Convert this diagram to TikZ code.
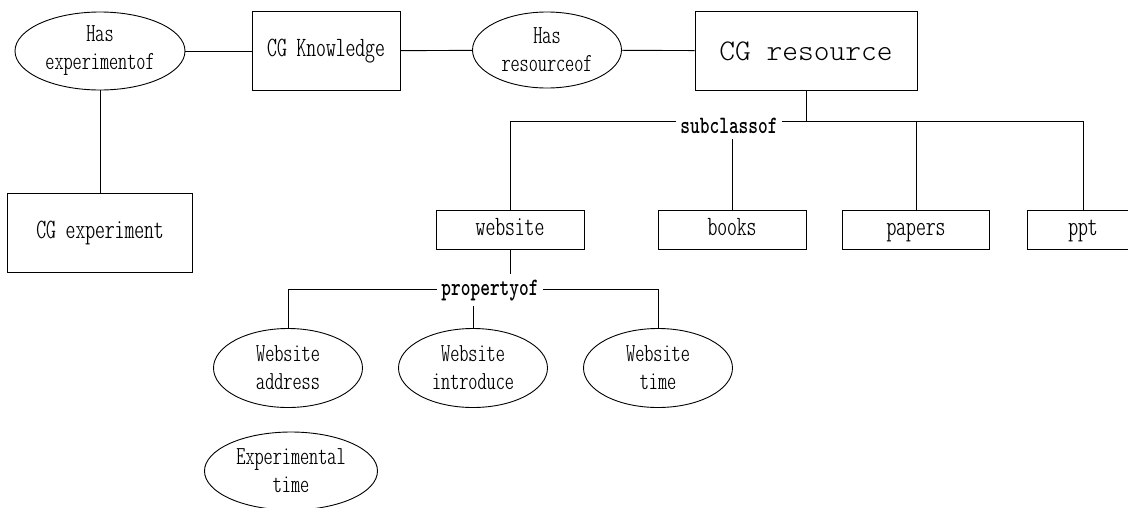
\documentclass[tikz,border=0pt]{standalone}
\usepackage{graphicx}
\usetikzlibrary{shapes.geometric}
\newcommand\txtfont{\fontfamily{lmtt}\fontseries{lc}\fontsize{28}{25}\selectfont}
\newcommand\ovalfont{\fontfamily{lmtt}\fontseries{lc}\fontsize{26}{28}\selectfont}
\newcommand\bigfont{\fontfamily{lmtt}\fontseries{l}\fontsize{30}{30}\selectfont}
\newcommand\lblfont{\fontfamily{lmtt}\fontseries{b}\fontsize{25}{26}\selectfont}
\newcommand\narrow[1]{\scalebox{0.74}[1]{#1}}
\begin{document}
\begin{tikzpicture}[x=1pt,y=-1pt,line width=0.9pt,
  box/.style={draw,rectangle,inner sep=0pt,font=\txtfont,align=center,minimum height=79pt},
  leaf/.style={box,minimum width=148pt,minimum height=39pt,text height=16pt,text depth=5pt},
  oval/.style={draw,ellipse,inner sep=0pt,minimum width=149pt,minimum height=78pt,font=\ovalfont,align=center},
  lbl/.style={inner xsep=4pt,inner ysep=5pt,font=\lblfont,anchor=base}]
\useasboundingbox (0,0) rectangle (1128,507);

% top row
\node[oval,minimum width=170pt] (hasexp) at (100,51) {Has\\experimentof};
\node[box,minimum width=148pt] (cgknow) at (326,51) {CG Knowledge};
\node[oval,minimum height=76pt] (hasres) at (547,50) {Has\\resourceof};
\node[box,minimum width=222pt,font=\bigfont] (cgres) at (806,51) {CG resource};
\node[box,minimum width=185pt] (cgexp) at (100,233) {CG experiment};

\draw (hasexp) -- (cgknow);
\draw (cgknow) -- (hasres);
\draw (hasres) -- (cgres);
\draw (hasexp) -- (cgexp);

% subclasses
\node[leaf] (website) at (510,230) {website};
\node[leaf] (books) at (732,230) {books};
\node[leaf,minimum width=147pt] (papers) at (916,230) {papers};
\node[leaf,minimum width=112pt] (ppt) at (1083,230) {ppt};

\node[lbl] (subcl) at (729,133) {\narrow{subclassof}};
\coordinate (sc) at (729,121);
\draw (cgres.south) -- (cgres.south |- sc);
\draw (website.north) |- (subcl.west |- sc);
\draw (subcl.east |- sc) -| (ppt.north);
\draw (papers.north) -- (papers.north |- sc);
\draw (books.north) -- (books.north |- subcl.south);

% properties of website
\node[oval,minimum height=79pt] (waddr) at (288,368) {Website\\address};
\node[oval,minimum height=79pt] (wintro) at (473,368) {Website\\introduce};
\node[oval,minimum height=79pt] (wtime) at (658,368) {Website\\time};
\node[oval,minimum width=173pt] (exptime) at (291,471) {Experimental\\time};

\node[lbl] (propof) at (490,295) {\narrow{propertyof}};
\coordinate (pl) at (490,289);
\draw (website.south) -- (website.south |- propof.north);
\draw (waddr.north) |- (propof.west |- pl);
\draw (propof.east |- pl) -| (wtime.north);
\draw (wintro.north) -- (wintro.north |- propof.south);
\end{tikzpicture}
\end{document}
